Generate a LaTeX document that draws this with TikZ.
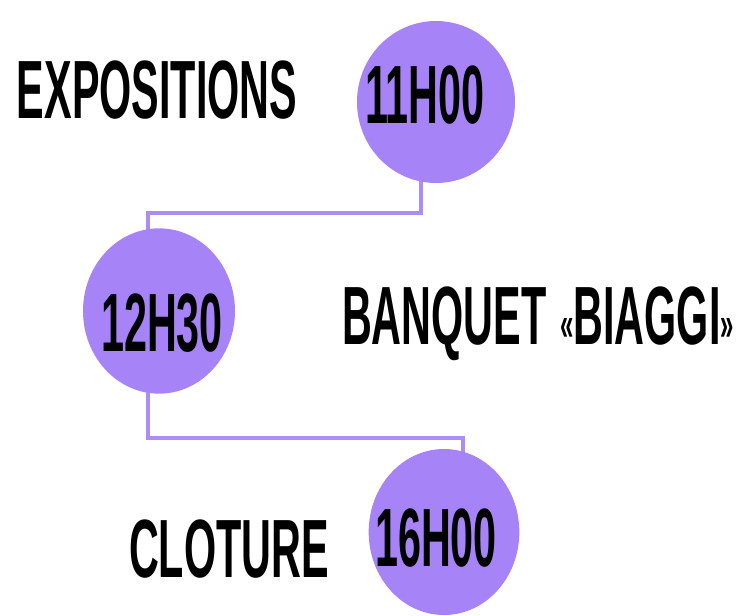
\documentclass[tikz,border=0pt]{standalone}
\usepackage{fontspec}
\usepackage{tikz}
\usetikzlibrary{shapes.geometric}
\usetikzlibrary{backgrounds}
\newfontfamily\condfont{Liberation Sans Bold}[FakeStretch=0.5]
\definecolor{lilac}{RGB}{166,131,246}
\definecolor{lilacline}{RGB}{172,140,246}

\begin{document}
\begin{tikzpicture}[x=0.75pt,y=0.75pt,yscale=-1,xscale=1,
  dot/.style={ellipse,fill=lilac,draw=none,inner sep=0pt},
  label/.style={inner sep=0pt,text depth=0pt,font=\condfont\fontsize{62}{62}\selectfont},
  link/.style={draw=lilacline,line width=3pt,line join=miter}]
\useasboundingbox (0,0) rectangle (750,615);

%Shape: Ellipse [id:dot1]
\node [dot,minimum width=118.5pt,minimum height=121.5pt] (d1) at (436,102) {};
%Shape: Ellipse [id:dot2]
\node [dot,minimum width=114pt,minimum height=124pt] (d2) at (159,311) {};
%Shape: Ellipse [id:dot3]
\node [dot,minimum width=113pt,minimum height=124.5pt] (d3) at (444,532) {};

% Text Node
\node [label] (t1) at (425,95) {11H00};
% Text Node
\node [label] (t2) at (162,323) {12H30};
% Text Node
\node [label] (t3) at (436,538) {16H00};

% Text Node
\node [label] (expo) at (157,90) {EXPOSITIONS};
% Text Node
\node [label] (banquet) at (538,316) {BANQUET\,{\fontsize{36}{36}\selectfont\raisebox{3pt}{«}}BIAGGI{\fontsize{36}{36}\selectfont\raisebox{3pt}{»}}};
% Text Node
\node [label] (cloture) at (229,549) {CLOTURE};

%Straight Lines [id:bend]
\coordinate (k1) at (421,213);
\coordinate (k2) at (148,213);
\coordinate (k3) at (148,438);
\coordinate (k4) at (463,438);

\begin{scope}[on background layer]
\draw [link] (k1 |- d1) -- (k1) -- (k2) -- (k2 |- d2);
\draw [link] (k3 |- d2) -- (k3) -- (k4) -- (k4 |- d3);
\end{scope}

\end{tikzpicture}
\end{document}
